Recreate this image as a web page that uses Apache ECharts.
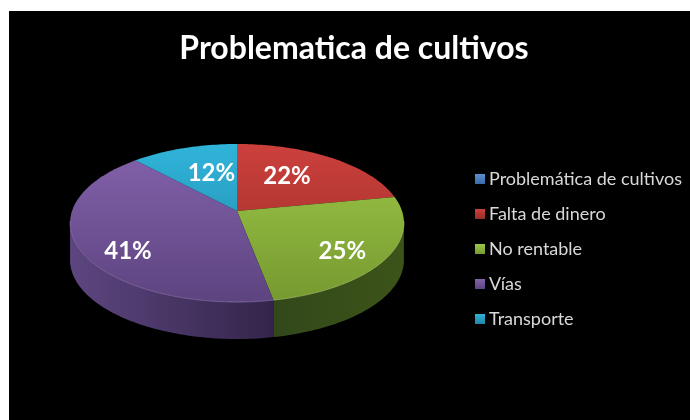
<!DOCTYPE html>
<html>
<head>
<meta charset="utf-8">
<script src="https://cdn.jsdelivr.net/npm/echarts@6/dist/echarts.min.js"></script>
<style>
html,body{margin:0;padding:0;background:#fff;width:690px;height:420px;overflow:hidden}
#panel{position:absolute;left:9px;top:11px;width:681px;height:409px;background:#000}
#chart{position:absolute;left:0;top:0;width:690px;height:420px}
</style>
</head>
<body>
<div id="panel"></div>
<div id="chart"></div>
<script>
// ---- data ----
const titleText = 'Problematica de cultivos';
const categories = ['Problemática de cultivos', 'Falta de dinero', 'No rentable', 'Vías', 'Transporte'];
const percentValues = [0, 22, 25, 41, 12];

// ---- styling ----
const topColors = [['#5b8fd0','#3a6aa8'],['#cc403c','#962b29'],['#9dc849','#76992f'],['#8462ac','#5d4480'],['#30b4da','#2184a4']];
const wallColors = [['#2c4f7c','#2c4f7c'],['#6e2220','#4c1716'],['#3c5419','#33481a'],['#5d4680','#33254a'],['#1a6a84','#134f63']];
const rimColors = ['#8fb4e0','#e08a88','#b9d97a','#9d83c0','#80d0e8'];
const labelNudge = [[0,0],[-9,-1],[19,13],[-17,18],[8,2]];

// ---- pie projection (perspective circle to ellipse) ----
const CX = 237, CY = 223, DEPTH = 37, RX = 165, RY = 79, SHIFT = 12, PERSP = 0.152;
function project(pct, r) {
  const a = pct / 100 * Math.PI * 2;
  const X = Math.sin(a) * r, Y = -Math.cos(a) * r;
  const w = 1 - PERSP * Y;
  return [CX + RX * X / w, CY + (RY * Y - SHIFT) / w];
}
function arc(start, end) {
  const pts = [], n = Math.max(2, Math.ceil((end - start) * 3));
  for (let i = 0; i <= n; i++) pts.push(project(start + (end - start) * i / n, 1));
  return pts;
}

function renderSlice(index) {
  return function (params, api) {
    const value = api.value(0), start = api.value(1);
    if (!value) return { type: 'group', children: [] };
    const end = start + value;
    const rim = arc(start, end);
    const front = rim.filter(p => p[1] >= CY - 3);
    const children = [];
    if (front.length > 1) {
      const wall = front.concat(front.slice().reverse().map(p => [p[0], p[1] + DEPTH]));
      children.push({
        type: 'polygon', z2: 1, shape: { points: wall },
        style: { fill: new echarts.graphic.LinearGradient(front[0][0], 0, front[front.length-1][0], 0,
          [{offset:0,color:wallColors[index][start > 40 ? 1 : 0]},{offset:1,color:wallColors[index][start > 40 ? 0 : 1]}], true) }
      });
      children.push({
        type: 'polyline', z2: 3, shape: { points: front },
        style: { stroke: rimColors[index], lineWidth: 1, opacity: 0.55, fill: null }
      });
    }
    children.push({
      type: 'polygon', z2: 2, shape: { points: [project(0, 0)].concat(rim) },
      style: { fill: new echarts.graphic.LinearGradient(0, CY - RY, 0, CY + RY,
        [{offset:0,color:topColors[index][0]},{offset:1,color:topColors[index][1]}], true) }
    });
    const anchor = project(start + value / 2, 0.6);
    children.push({
      type: 'text', z2: 4,
      x: anchor[0] + labelNudge[index][0], y: anchor[1] + labelNudge[index][1],
      style: { text: value + '%', fill: '#fff', font: 'bold 24px Lato', align: 'center', verticalAlign: 'middle' }
    });
    return { type: 'group', children };
  };
}

let running = 0;
const series = categories.map((name, i) => {
  const row = [percentValues[i], running];
  running += percentValues[i];
  return {
    type: 'custom', name, coordinateSystem: 'none', silent: true,
    itemStyle: { color: topColors[i][0] },
    data: [row], renderItem: renderSlice(i)
  };
});

const chart = echarts.init(document.getElementById('chart'), null, { renderer: 'canvas' });
chart.setOption({
  animation: false,
  backgroundColor: 'transparent',
  title: {
    text: titleText, left: 349, top: 28, textAlign: 'center',
    textStyle: { color: '#fff', fontFamily: 'Lato', fontWeight: 'bold', fontSize: 32 }
  },
  legend: {
    orient: 'vertical', left: 475, top: 170, itemWidth: 10, itemHeight: 10, itemGap: 17, selectedMode: false,
    padding: 0, icon: 'rect',
    textStyle: { color: '#d9d9d9', fontFamily: 'Lato', fontSize: 18, padding: [0,0,0,-1] },
    data: categories.map((name, i) => ({
      name,
      itemStyle: { color: new echarts.graphic.LinearGradient(0,0,0,1,
        [{offset:0,color:topColors[i][0]},{offset:1,color:topColors[i][1]}]) }
    }))
  },
  series
});
</script>
</body>
</html>
